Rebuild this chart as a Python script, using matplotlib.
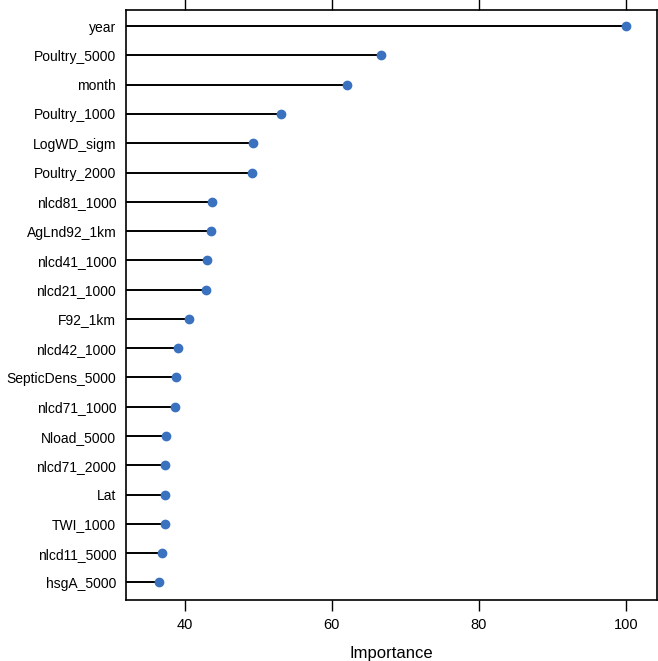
import matplotlib.pyplot as plt

plt.rcParams['font.family'] = ['Liberation Sans', 'DejaVu Sans']

# variable importance, top to bottom as shown
features = ["year", "Poultry_5000", "month", "Poultry_1000", "LogWD_sigm",
            "Poultry_2000", "nlcd81_1000", "AgLnd92_1km", "nlcd41_1000",
            "nlcd21_1000", "F92_1km", "nlcd42_1000", "SepticDens_5000",
            "nlcd71_1000", "Nload_5000", "nlcd71_2000", "Lat", "TWI_1000",
            "nlcd11_5000", "hsgA_5000"]
importance = [100.0, 66.7, 62.0, 53.1, 49.3,
              49.2, 43.7, 43.5, 43.0,
              42.9, 40.6, 39.1, 38.8,
              38.6, 37.4, 37.35, 37.35, 37.25,
              36.95, 36.5]

xmin, xmax = 32.0, 104.2
ticks = [40, 60, 80, 100]

fig = plt.figure(figsize=(6.58, 6.61), dpi=100)
ax = fig.add_axes([126/658, 1 - 600/661, 531/658, 590/661])

n = len(features)
ypos = list(range(n, 0, -1))

ax.hlines(ypos, xmin, importance, color='black', lw=1.4)
ax.plot(importance, ypos, 'o', color='#3a72c0', ms=6, zorder=3)

ax.set_xlim(xmin, xmax)
ax.set_ylim(0.4, n + 0.55)
ax.set_yticks(ypos)
ax.set_yticklabels(features, fontsize=10)
ax.tick_params(axis='y', length=0, pad=7)
ax.set_xticks(ticks)
ax.set_xticklabels([str(t) for t in ticks], fontsize=10.5)
ax.tick_params(axis='x', top=True, direction='out', length=8, width=1, pad=5)
ax.set_xlabel('Importance', fontsize=12, labelpad=10)

for s in ax.spines.values():
    s.set_linewidth(1.2)

plt.savefig('out.png', dpi=100)
